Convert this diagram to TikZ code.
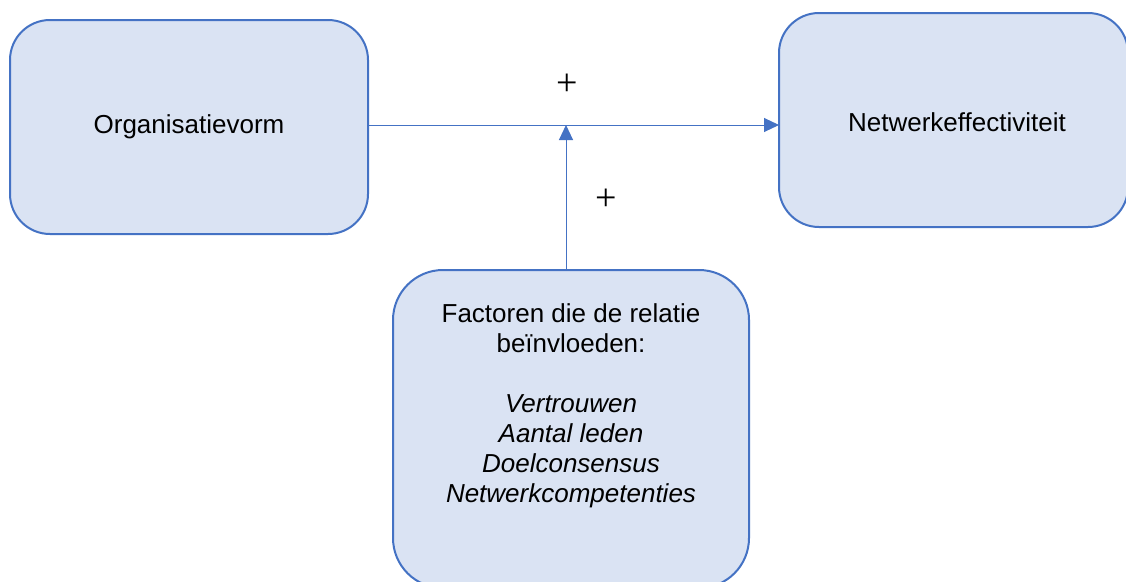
\documentclass[tikz,border=0pt]{standalone}
\usepackage{fontspec}
\setmainfont{Liberation Sans}
\newfontfamily\plusfont{Liberation Serif}
\usetikzlibrary{arrows.meta}
\definecolor{boxfill}{HTML}{DAE3F3}
\definecolor{boxline}{HTML}{4472C4}
\begin{document}
\begin{tikzpicture}[x=1pt,y=-1pt,
  box/.style={draw=boxline, fill=boxfill, line width=2pt, inner sep=0pt, outer sep=0pt,
    font=\fontsize{26}{30}\selectfont, align=center},
  conn/.style={draw=boxline, line width=1pt, -{Triangle[length=15pt,width=14pt]}},
  plus/.style={font=\plusfont\fontsize{38}{38}\selectfont, inner sep=0pt}]
\useasboundingbox (0,0) rectangle (1126,581);
\fill[white] (0,0) rectangle (1126,581);
\node[box, rounded corners=40pt, minimum width=358pt, minimum height=214pt] (org) at (189,127) {Organisatievorm};
\node[box, rounded corners=40pt, minimum width=349pt, minimum height=214pt] (net) at (953.5,120) {};
\node[font=\fontsize{26}{30}\selectfont] (nettext) at (957,122) {Netwerkeffectiviteit};
\node[box, rounded corners=50pt, minimum width=356pt, minimum height=318pt] (fac) at (571,429) {};
\node[font=\fontsize{26}{30}\selectfont, align=center, anchor=north] (factext) at (571,300)
  {Factoren die de relatie\\be\"invloeden:\\[30pt]\itshape Vertrouwen\\\itshape Aantal leden\\\itshape Doelconsensus\\\itshape Netwerkcompetenties};
\coordinate (mid) at (566,125);
\draw[conn] (org.east |- mid) -- (net.west |- mid);
\draw[conn] (fac.north -| mid) -- (mid);
\node[plus] (p1) at (567,85) {+};
\node[plus] (p2) at (606,200) {+};
\end{tikzpicture}
\end{document}
